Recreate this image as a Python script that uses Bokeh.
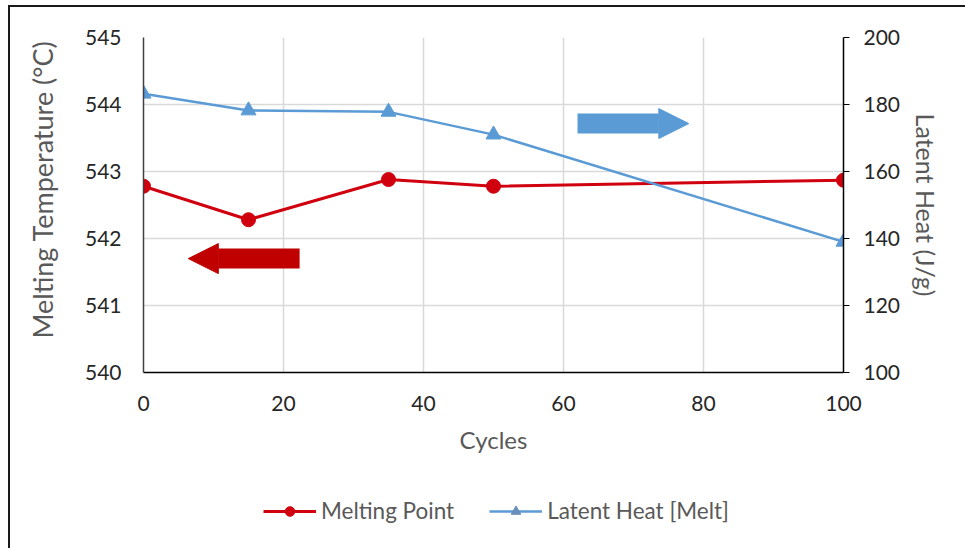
from bokeh.plotting import figure
from bokeh.layouts import column
from bokeh.models import (Range1d, LinearAxis, Legend, LegendItem, Arrow, NormalHead,
                          FixedTicker, Title)
from bokeh.embed import file_html
from bokeh.resources import INLINE

# ---- data ----
cycles = [0, 15, 35, 50, 100]
melting_point = [542.78, 542.28, 542.88, 542.78, 542.87]
latent_heat = [183.2, 178.2, 177.8, 171.0, 139.0]
x_ticks = [0, 20, 40, 60, 80, 100]
left_ticks = [540, 541, 542, 543, 544, 545]
right_ticks = [100, 120, 140, 160, 180, 200]
series_names = ["Melting Point", "Latent Heat [Melt]"]

RED = "#D0000F"
BLUE = "#5B9BD5"
FONT = "Lato"
TICK_COL = "#262626"
TITLE_COL = "#595959"

p = figure(width=965, height=480, output_backend="svg", toolbar_location=None,
           x_range=Range1d(0, 100), y_range=Range1d(540, 545),
           min_border_left=143, min_border_right=122, min_border_top=37,
           min_border_bottom=108, background_fill_color="white",
           border_fill_color=None, outline_line_color=None)
p.extra_y_ranges = {"right": Range1d(100, 200)}

# grids
p.xgrid.ticker = FixedTicker(ticks=x_ticks)
p.ygrid.ticker = FixedTicker(ticks=left_ticks)
for g in (p.xgrid, p.ygrid):
    g.grid_line_color = "#d9d9d9"
    g.grid_line_width = 1.5

# bottom axis
xa = p.xaxis[0]
xa.ticker = FixedTicker(ticks=x_ticks)
xa.axis_label = "Cycles"
xa.axis_line_color = "#000000"
xa.axis_line_width = 1.5
xa.major_tick_line_color = None
xa.minor_tick_line_color = None
xa.major_label_standoff = 17
xa.axis_label_standoff = 11

# left axis (title added separately so it can sit slightly high, as in the original)
ya = p.yaxis[0]
ya.ticker = FixedTicker(ticks=left_ticks)
ya.axis_line_color = "#404040"
ya.axis_line_width = 1.5
ya.major_tick_line_color = None
ya.minor_tick_line_color = None
ya.major_label_standoff = 16

# right axis
ra = LinearAxis(y_range_name="right", ticker=FixedTicker(ticks=right_ticks),
                axis_label="Latent Heat (J/g)")
ra.axis_line_color = "#000000"
ra.axis_line_width = 1.5
ra.major_tick_line_color = "#000000"
ra.major_tick_out = 6
ra.major_tick_in = 0
ra.minor_tick_line_color = None
ra.major_label_standoff = 14
ra.axis_label_standoff = 8
p.add_layout(ra, "right")

for ax in (xa, ya, ra):
    ax.major_label_text_font = FONT
    ax.major_label_text_font_size = "21px"
    ax.major_label_text_color = TICK_COL
    ax.axis_label_text_font = FONT
    ax.axis_label_text_color = TITLE_COL
    ax.axis_label_text_font_style = "normal"
xa.axis_label_text_font_size = "24px"
ra.axis_label_text_font_size = "25px"

p.add_layout(Title(text="Melting Temperature (°C)", align="right", offset=3,
                   standoff=45, text_font=FONT, text_font_size="27px",
                   text_font_style="normal", text_color=TITLE_COL), "left")

# series
p.line(cycles, melting_point, line_color=RED, line_width=3)
p.scatter(cycles, melting_point, marker="circle", size=14,
          fill_color=RED, line_color=RED)
p.line(cycles, latent_heat, line_color=BLUE, line_width=2.5, y_range_name="right")
p.scatter(cycles, latent_heat, marker="triangle", size=15,
          fill_color=BLUE, line_color=BLUE, y_range_name="right")

# arrows
p.add_layout(Arrow(x_start=22.3, y_start=541.7, x_end=6.4, y_end=541.7,
                   line_color="#C00000", line_width=20, line_cap="butt",
                   end=NormalHead(size=30, fill_color="#C00000",
                                  line_color="#C00000", line_width=1)))
p.add_layout(Arrow(x_start=62.0, y_start=174.3, x_end=77.9, y_end=174.3,
                   y_range_name="right",
                   line_color=BLUE, line_width=20, line_cap="butt",
                   end=NormalHead(size=30, fill_color=BLUE,
                                  line_color=BLUE, line_width=1)))

# legend strip (separate figure below, same series styles; proxies lie off-range)
q = figure(width=965, height=68, output_backend="svg", toolbar_location=None,
           x_range=Range1d(0, 1), y_range=Range1d(0, 1),
           x_axis_location=None, y_axis_location=None,
           min_border_left=0, min_border_right=0, min_border_top=0,
           min_border_bottom=0, background_fill_color=None,
           border_fill_color=None, outline_line_color=None)
q.grid.visible = False
px, py = [-5], [-5]
l1 = q.line(x=px, y=py, line_color=RED, line_width=3)
m1 = q.scatter(x=px, y=py, marker="circle", size=13, fill_color=RED, line_color=RED)
l2 = q.line(x=px, y=py, line_color=BLUE, line_width=2.5)
m2 = q.scatter(x=px, y=py, marker="triangle", size=14, fill_color="#6A8FB8",
               line_color="#6A8FB8")
legend = Legend(items=[LegendItem(label=series_names[0], renderers=[l1, m1]),
                       LegendItem(label=series_names[1], renderers=[l2, m2])],
                orientation="horizontal", location=(120, 24),
                glyph_width=53, glyph_height=24, label_standoff=5, spacing=35,
                padding=0, margin=0, border_line_color=None,
                background_fill_alpha=0,
                label_text_font=FONT, label_text_font_size="22.5px",
                label_text_color=TITLE_COL)
q.add_layout(legend, "center")

layout = column(p, q, spacing=0)
layout.styles = {"background-color": "white",
                 "box-shadow": "inset 8px 5px 0 0 white, inset 10px 7px 0 0 #1a1a1a"}

open("out.html", "w").write(file_html(layout, INLINE))
